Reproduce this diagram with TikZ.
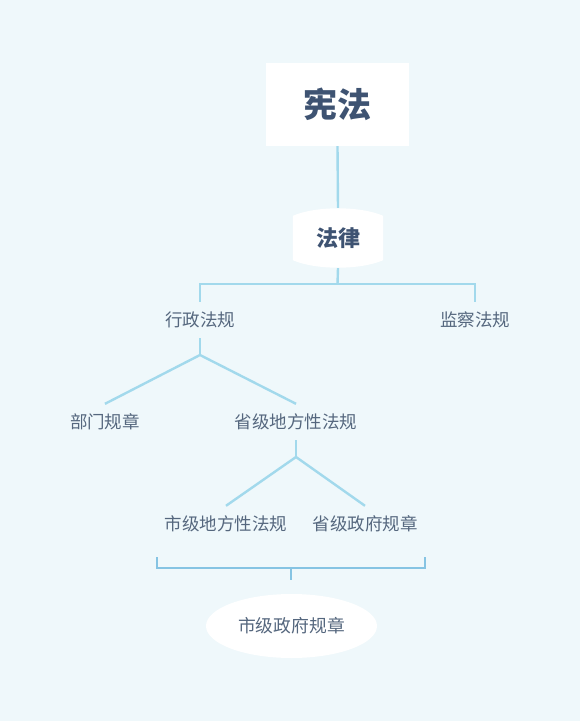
\documentclass[tikz,border=0pt]{standalone}
\usepackage{fontspec}
\newfontfamily\cjk{Noto Sans CJK SC}
\usetikzlibrary{positioning,calc,backgrounds,shapes.geometric}
\definecolor{bgblue}{HTML}{EFF8FB}
\definecolor{linkblue}{HTML}{A2D9EC}
\definecolor{brackblue}{HTML}{86C4E3}
\definecolor{inkdark}{HTML}{3E5372}
\definecolor{inksoft}{HTML}{55677E}
\tikzset{
topbox/.style={fill=white,minimum width=143pt,minimum height=83pt,inner sep=0pt,font=\cjk\bfseries\fontsize{34}{40}\selectfont,text=inkdark},
lawbox/.style={minimum width=90pt,minimum height=60pt,inner sep=0pt,font=\cjk\bfseries\fontsize{22}{26}\selectfont,text=inkdark},
leaf/.style={minimum height=36pt,inner sep=0pt,font=\cjk\fontsize{17.5}{21}\selectfont,text=inksoft},
oval/.style={ellipse,fill=white,minimum width=171pt,minimum height=64pt,inner sep=0pt,font=\cjk\fontsize{17.8}{21}\selectfont,text=inksoft},
link/.style={draw=linkblue,line width=2.4pt},
brack/.style={draw=brackblue,line width=1.3pt}
}
\begin{document}
\begin{tikzpicture}[x=1pt,y=-1pt]
\useasboundingbox (0,0) rectangle (580,721);
\node[topbox] (const) at (337.5,104.5) {宪法};
\node[lawbox] (law) at (338,238) {法律};
% page ground and white shell of the law node
\begin{scope}[on background layer]
\fill[bgblue] (0,0) rectangle (580,721);
\fill[white] ($(law.north west)+(0,8)$) .. controls ($(law.north)+(-22,-2)$) and ($(law.north)+(22,-2)$) .. ($(law.north east)+(0,8)$)
  -- ($(law.south east)+(0,-8)$) .. controls ($(law.south)+(22,2)$) and ($(law.south)+(-22,2)$) .. ($(law.south west)+(0,-8)$) -- cycle;
\end{scope}
\node[leaf] (admin) at (200,320) {行政法规};
\node[leaf] (superv) at (475,320) {监察法规};
\node[leaf] (dept) at (105,422) {部门规章};
\node[leaf] (provlaw) at (296,422) {省级地方性法规};
\node[leaf] (citylaw) at (226,524) {市级地方性法规};
\node[leaf] (provgov) at (365,524) {省级政府规章};
\node[oval] (citygov) at (291.5,626) {市级政府规章};
% junctions
\coordinate (j0) at (337.5,284);
\coordinate (j1) at (200,355);
\coordinate (j2) at (296,457);
\coordinate (bl) at (157,557);
\coordinate (br) at (425,557);
\coordinate (b0) at (291,568);
\coordinate (b1) at (291,580);
% connectors
\draw[link] (const.south) -- (law.north);
\draw[link] (law.south) -- (j0);
\draw[link] (admin.north) |- (j0) -| (superv.north);
\draw[link] (admin.south) -- (j1);
\draw[link] (dept.north) -- (j1) -- (provlaw.north);
\draw[link] (provlaw.south) -- (j2);
\draw[link] (citylaw.north) -- (j2) -- (provgov.north);
\draw[brack] (bl) |- (b0) -| (br);
\draw[brack] (b0) -- (b1);
\end{tikzpicture}
\end{document}
